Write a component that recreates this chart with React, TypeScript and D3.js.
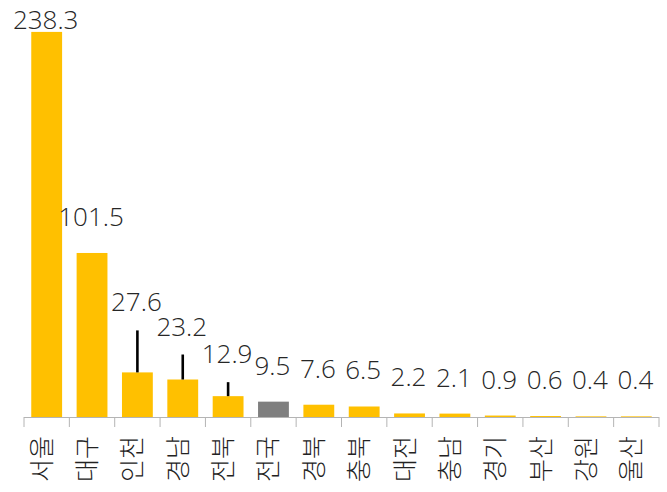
import { useEffect } from 'react'
import * as d3 from 'd3'

// 지역별 값 (전국 = 평균, 회색)
const REGIONS = ['서울', '대구', '인천', '경남', '전북', '전국', '경북', '충북', '대전', '충남', '경기', '부산', '강원', '울산']
const VALUES = [238.3, 101.5, 27.6, 23.2, 12.9, 9.5, 7.6, 6.5, 2.2, 2.1, 0.9, 0.6, 0.4, 0.4]
const LABELS = ['238.3', '101.5', '27.6', '23.2', '12.9', '9.5', '7.6', '6.5', '2.2', '2.1', '0.9', '0.6', '0.4', '0.4']
const HIGHLIGHT = '전국'

// labels that were dragged up by hand in the original (px above bar top)
const LABEL_LIFT: Record<string, number> = { 서울: 3, 인천: 61, 경남: 44, 전북: 33 }
const LEADERS = ['인천', '경남', '전북']

const W = 667
const H = 492
const BASE = 417
const FONT = '"Open Sans", "Noto Sans CJK KR", sans-serif'
const KR_FONT = '"Noto Sans CJK KR", "Noto Sans", sans-serif'

export default function App() {
  useEffect(() => {
    document.body.style.margin = '0'
  }, [])

  const x = d3.scaleBand<string>().domain(REGIONS).range([24, 659]).paddingInner(0.32).paddingOuter(0.16)
  const y = d3.scaleLinear().domain([0, 250]).range([BASE, 13])
  const step = x.step()
  const edges = d3.range(REGIONS.length + 1).map(i => 24 + i * step)

  return (
    <svg width={W} height={H} style={{ display: 'block', background: '#fff' }}>
      {REGIONS.map((r, i) => (
        <rect
          key={r}
          x={x(r)}
          y={y(VALUES[i])}
          width={x.bandwidth()}
          height={BASE - y(VALUES[i])}
          fill={r === HIGHLIGHT ? '#7f7f7f' : '#ffc000'}
        />
      ))}

      {/* axis */}
      <line x1={24} x2={659} y1={BASE + 0.5} y2={BASE + 0.5} stroke="#b4b4b4" strokeWidth={1} />
      {edges.map((e, i) => (
        <line key={i} x1={e} x2={e} y1={BASE} y2={BASE + 10} stroke="#b4b4b4" strokeWidth={1} />
      ))}

      {/* leader lines */}
      {REGIONS.map((r, i) => {
        if (!LEADERS.includes(r)) return null
        const top = y(VALUES[i])
        const lift = LABEL_LIFT[r] ?? 27
        const cx = (x(r) ?? 0) + x.bandwidth() / 2
        return <line key={r} x1={cx} x2={cx} y1={top - lift + 19} y2={top} stroke="#000" strokeWidth={2.6} />
      })}

      {/* value labels */}
      {REGIONS.map((r, i) => {
        const cx = (x(r) ?? 0) + x.bandwidth() / 2
        const lift = LABEL_LIFT[r] ?? 27
        return (
          <text key={r} x={cx - 1} y={y(VALUES[i]) - lift} textAnchor="middle"
            fontFamily={FONT} fontSize={26} fontWeight={300} fill="#262626">
            {LABELS[i]}
          </text>
        )
      })}

      {/* category labels, rotated */}
      {REGIONS.map(r => {
        const cx = (x(r) ?? 0) + x.bandwidth() / 2
        return (
          <text key={r} transform={`translate(${cx + 4},436) rotate(-90)`} textAnchor="end"
            fontFamily={KR_FONT} fontSize={25} fontWeight={300} fill="#222">
            {r}
          </text>
        )
      })}
    </svg>
  )
}
